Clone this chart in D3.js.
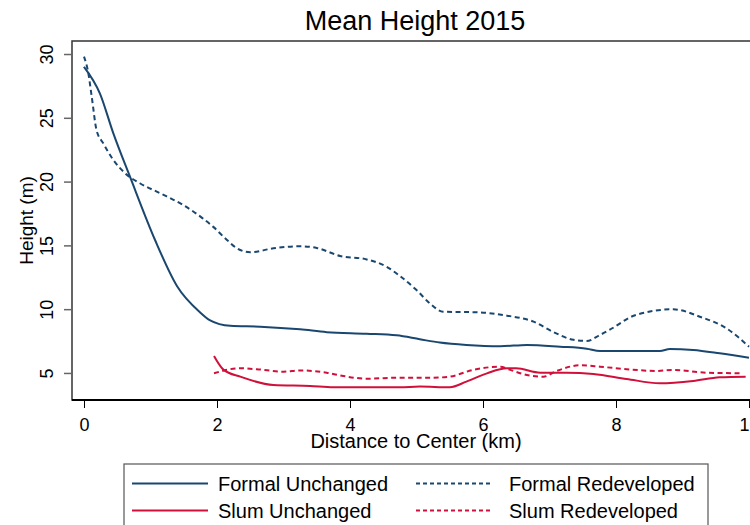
<!DOCTYPE html>
<html>
<head>
<meta charset="utf-8">
<script src="https://cdn.jsdelivr.net/npm/d3@7"></script>
<style>
  body { margin: 0; background: #fff; }
  svg text { font-family: "Liberation Sans", Arial, sans-serif; fill: #000; }
</style>
</head>
<body>
<svg id="chart" width="750" height="525"></svg>
<script>
// distance to center (km), mean height (m)
const formalUnchanged = [
  [0.0, 29.0], [0.24, 26.9], [0.44, 23.8], [0.69, 20.4], [1.07, 15.4], [1.4, 11.8],
  [1.74, 9.78], [1.89, 9.15], [2.2, 8.7], [2.65, 8.63], [3.25, 8.42], [3.65, 8.2],
  [4.25, 8.08], [4.7, 7.95], [5.05, 7.64], [5.35, 7.38], [5.75, 7.19], [6.26, 7.09],
  [6.66, 7.2], [7.16, 7.06], [7.56, 6.9], [7.76, 6.72], [8.66, 6.72], [8.81, 6.88],
  [9.16, 6.8], [9.56, 6.54], [10.0, 6.2]
];
const formalRedeveloped = [
  [0.0, 29.8], [0.065, 28.5], [0.115, 26.7], [0.19, 24.0], [0.29, 23.0], [0.44, 21.7],
  [0.62, 20.65], [0.84, 19.87], [1.14, 19.1], [1.49, 18.17], [1.79, 17.1], [1.94, 16.47],
  [2.15, 15.42], [2.3, 14.77], [2.5, 14.46], [2.85, 14.77], [3.25, 14.93], [3.5, 14.8],
  [3.85, 14.17], [4.25, 13.9], [4.55, 13.33], [4.75, 12.6], [5.0, 11.5], [5.2, 10.46],
  [5.4, 9.8], [5.9, 9.76], [6.36, 9.49], [6.76, 9.02], [7.06, 8.2], [7.36, 7.6],
  [7.56, 7.51], [7.76, 7.98], [7.9, 8.37], [8.3, 9.55], [8.86, 9.99], [9.26, 9.41],
  [9.66, 8.5], [10.0, 7.06]
];
const slumUnchanged = [
  [1.955, 6.33], [2.1, 5.24], [2.35, 4.71], [2.85, 4.06], [3.4, 3.98], [3.75, 3.88],
  [4.75, 3.88], [5.05, 3.93], [5.5, 3.88], [5.75, 4.32], [6.06, 4.97], [6.36, 5.36],
  [6.5, 5.36], [6.86, 5.02], [7.26, 5.02], [7.66, 4.92], [8.16, 4.53], [8.66, 4.19],
  [9.16, 4.37], [9.56, 4.66], [9.95, 4.71]
];
const slumRedeveloped = [
  [1.955, 4.98], [2.35, 5.37], [2.6, 5.29], [3.0, 5.1], [3.25, 5.2], [3.65, 5.02],
  [3.9, 4.76], [4.25, 4.55], [4.75, 4.63], [5.25, 4.63], [5.5, 4.71], [5.85, 5.24],
  [6.26, 5.49], [6.41, 5.24], [6.66, 4.84], [6.91, 4.71], [7.11, 5.16], [7.46, 5.6],
  [7.76, 5.49], [8.16, 5.29], [8.61, 5.16], [8.86, 5.24], [9.36, 5.02], [9.86, 4.98]
];
const xTicks = [0, 2, 4, 6, 8, 10];
const yTicks = [5, 10, 15, 20, 25, 30];
const seriesNames = ['Formal Unchanged', 'Formal Redeveloped', 'Slum Unchanged', 'Slum Redeveloped'];

const navy = '#1a476f';
const red = '#d0103a';

const series = [
  { name: seriesNames[0], data: formalUnchanged, color: navy, dash: null },
  { name: seriesNames[1], data: formalRedeveloped, color: navy, dash: '5,3.5' },
  { name: seriesNames[2], data: slumUnchanged, color: red, dash: null },
  { name: seriesNames[3], data: slumRedeveloped, color: red, dash: '5,3.5' }
];

const svg = d3.select('#chart');
const frame = { left: 72, top: 41, right: 762, bottom: 400 };

const x = d3.scaleLinear().domain([0, 10]).range([84, 749]);
const y = d3.scaleLinear().domain([2.88, 31.02]).range([frame.bottom, frame.top]);

// title
svg.append('text')
  .attr('x', 415).attr('y', 30)
  .attr('text-anchor', 'middle')
  .style('font-size', '27px')
  .text('Mean Height 2015');

// plot region border
svg.append('rect')
  .attr('x', frame.left).attr('y', frame.top)
  .attr('width', frame.right - frame.left).attr('height', frame.bottom - frame.top)
  .attr('fill', 'none').attr('stroke', '#333').attr('stroke-width', 1.5);

// lines
const line = d3.line()
  .x(d => x(d[0]))
  .y(d => y(d[1]))
  .curve(d3.curveMonotoneX);

svg.append('g')
  .selectAll('path')
  .data(series)
  .join('path')
    .attr('d', d => line(d.data))
    .attr('fill', 'none')
    .attr('stroke', d => d.color)
    .attr('stroke-width', 2)
    .attr('stroke-dasharray', d => d.dash);

// x axis
const xAxis = svg.append('g')
  .attr('transform', `translate(0,${frame.bottom})`)
  .call(d3.axisBottom(x).tickValues(xTicks).tickSize(8).tickPadding(8).tickFormat(d3.format('d')));
xAxis.select('.domain')
  .attr('d', `M${frame.left},0H${frame.right}`)
  .attr('stroke', '#000').attr('stroke-width', 2);
xAxis.selectAll('.tick line').attr('stroke', '#000');
xAxis.selectAll('.tick text')
  .attr('y', 31).attr('dy', null)
  .style('font-size', '18px');

svg.append('text')
  .attr('x', 416).attr('y', 448)
  .attr('text-anchor', 'middle')
  .style('font-size', '20px')
  .text('Distance to Center (km)');

// y axis
const yAxis = svg.append('g')
  .attr('transform', `translate(${frame.left},0)`)
  .call(d3.axisLeft(y).tickValues(yTicks).tickSize(8).tickFormat(d3.format('d')));
yAxis.select('.domain').remove();
yAxis.selectAll('.tick line').attr('stroke', '#666').attr('stroke-width', 1.5);
yAxis.selectAll('.tick text')
  .attr('x', null).attr('dy', null)
  .attr('text-anchor', 'middle')
  .attr('transform', 'translate(-19,0) rotate(-90)')
  .style('font-size', '18px');

svg.append('text')
  .attr('transform', `translate(33,${(frame.top + frame.bottom) / 2}) rotate(-90)`)
  .attr('text-anchor', 'middle')
  .style('font-size', '19px')
  .text('Height (m)');

// legend
const legend = svg.append('g');
legend.append('rect')
  .attr('x', 124).attr('y', 464)
  .attr('width', 584).attr('height', 80)
  .attr('fill', '#fff').attr('stroke', '#555').attr('stroke-width', 1.2);

const legendPos = [
  { lx: 132, tx: 218, row: 0 },
  { lx: 416, tx: 509, row: 0 },
  { lx: 132, tx: 218, row: 1 },
  { lx: 416, tx: 509, row: 1 }
];
const rowY = [483.5, 510.5];

const items = legend.selectAll('g.item')
  .data(series)
  .join('g')
    .attr('class', 'item');
items.append('line')
  .attr('x1', (d, i) => legendPos[i].lx)
  .attr('x2', (d, i) => legendPos[i].lx + 76)
  .attr('y1', (d, i) => rowY[legendPos[i].row])
  .attr('y2', (d, i) => rowY[legendPos[i].row])
  .attr('stroke', d => d.color)
  .attr('stroke-width', 2)
  .attr('stroke-dasharray', d => d.dash ? '4,3' : null);
items.append('text')
  .attr('x', (d, i) => legendPos[i].tx)
  .attr('y', (d, i) => rowY[legendPos[i].row] + 7)
  .style('font-size', '20px')
  .text(d => d.name);
</script>
</body>
</html>
